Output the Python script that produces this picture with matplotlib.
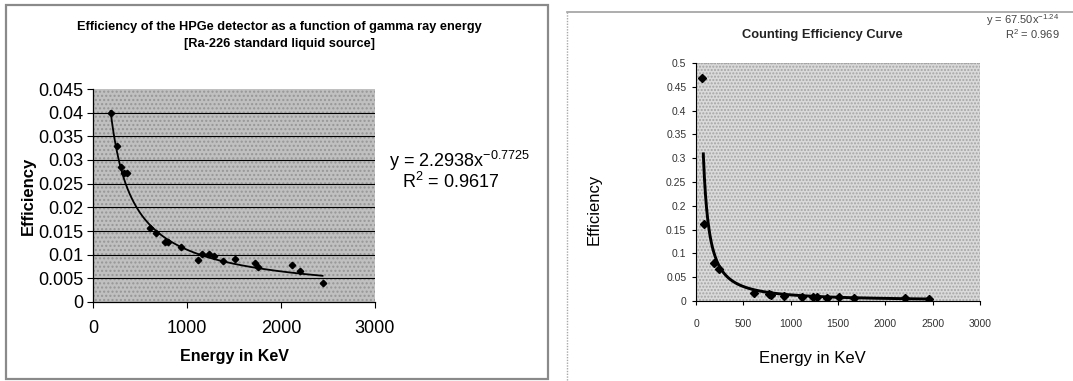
import matplotlib
matplotlib.use('Agg')
import matplotlib.pyplot as plt
import numpy as np
from matplotlib.patches import Rectangle
from matplotlib.lines import Line2D

W, H = 1073, 381
plt.rcParams['font.family'] = ['Liberation Sans', 'DejaVu Sans']
plt.rcParams['mathtext.fontset'] = 'custom'
plt.rcParams['mathtext.rm'] = 'Liberation Sans'
plt.rcParams['mathtext.it'] = 'Liberation Sans'

# left chart: Ra-226 standard liquid source
left_energy = [187, 257, 301, 334, 359, 609, 671, 763, 799, 935, 1115, 1159,
               1239, 1283, 1386, 1507, 1723, 1760, 2112, 2204, 2442]
left_eff = [0.0399, 0.0329, 0.0286, 0.0272, 0.0272, 0.0156, 0.0146, 0.0126,
            0.0126, 0.0117, 0.0089, 0.0102, 0.0101, 0.0098, 0.0086, 0.0091,
            0.0082, 0.0074, 0.0079, 0.0065, 0.0041]
left_fit = (2.2938, -0.7725)
left_yticks = [0, 0.005, 0.01, 0.015, 0.02, 0.025, 0.03, 0.035, 0.04, 0.045]
left_yticklabels = ['0', '0.005', '0.01', '0.015', '0.02', '0.025', '0.03', '0.035', '0.04', '0.045']
left_xticks = [0, 1000, 2000, 3000]

# right chart: counting efficiency curve
right_energy = [59, 86, 190, 242, 611, 768, 795, 932, 1121, 1239, 1283,
                1387, 1515, 1670, 2208, 2456]
right_eff = [0.469, 0.161, 0.080, 0.068, 0.0175, 0.0145, 0.013, 0.0112, 0.0088,
             0.0086, 0.0086, 0.0072, 0.0085, 0.0065, 0.0063, 0.0040]
right_fit = (67.50, -1.24)
right_fit_start = 77
right_yticks = [0, 0.05, 0.1, 0.15, 0.2, 0.25, 0.3, 0.35, 0.4, 0.45, 0.5]
right_yticklabels = ['0', '0.05', '0.1', '0.15', '0.2', '0.25', '0.3', '0.35', '0.4', '0.45', '0.5']
right_xticks = [0, 500, 1000, 1500, 2000, 2500, 3000]


def fx(px):
    return px / W


def fy(py):
    return 1 - py / H


def box(x0, y0, x1, y1):
    return [fx(x0), fy(y1), fx(x1) - fx(x0), fy(y0) - fy(y1)]


fig = plt.figure(figsize=(W / 100, H / 100), dpi=100)
fig.patch.set_facecolor('white')

# panel frames
fig.add_artist(Rectangle((fx(6), fy(379)), fx(548) - fx(6), fy(5) - fy(379),
                         transform=fig.transFigure, fill=False,
                         edgecolor='#8a8a8a', linewidth=1.6))
fig.add_artist(Line2D([fx(567), fx(1073)], [fy(12), fy(12)], transform=fig.transFigure,
                      color='#a0a0a0', linewidth=1.2))
fig.add_artist(Line2D([fx(567), fx(567)], [fy(12), fy(381)], transform=fig.transFigure,
                      color='#a8a8a8', linewidth=1.0, linestyle=(0, (1, 1))))

# ---- left chart ----
ax1 = fig.add_axes(box(93, 89, 375, 302))
ax1.add_patch(Rectangle((0, 0), 1, 1, transform=ax1.transAxes, facecolor='#c0c0c0',
                        edgecolor='#969696', hatch='....', linewidth=0, zorder=0))
for v in left_yticks[1:-1]:
    ax1.axhline(v, color='black', linewidth=0.8, zorder=1)
xx = np.linspace(min(left_energy), max(left_energy), 300)
ax1.plot(xx, left_fit[0] * xx ** left_fit[1], color='black', linewidth=1.3, zorder=3)
ax1.plot(left_energy, left_eff, linestyle='none', marker='D', markersize=3.3,
         color='black', zorder=4)
ax1.set_xlim(0, 3000)
ax1.set_ylim(0, 0.045)
ax1.set_xticks(left_xticks)
ax1.set_xticklabels([str(t) for t in left_xticks])
ax1.set_yticks(left_yticks)
ax1.set_yticklabels(left_yticklabels)
ax1.tick_params(labelsize=13, direction='out', length=4, width=0.8, pad=3)
ax1.tick_params(axis='x', pad=9)
for s in ('top', 'right'):
    ax1.spines[s].set_visible(False)
ax1.spines['left'].set_linewidth(0.9)
ax1.spines['bottom'].set_linewidth(0.9)

fig.text(fx(279), fy(27), 'Efficiency of the HPGe detector as a function of gamma ray energy',
         ha='center', va='center', fontsize=9.2, fontweight='bold')
fig.text(fx(279), fy(44), '[Ra-226 standard liquid source]',
         ha='center', va='center', fontsize=9.2, fontweight='bold')
fig.text(fx(234), fy(357), 'Energy in KeV', ha='center', va='center',
         fontsize=11.5, fontweight='bold')
fig.text(fx(28), fy(196), 'Efficiency', ha='center', va='center', rotation=90,
         fontsize=12, fontweight='bold')
fig.text(fx(389), fy(161), 'y = 2.2938x$^{-0.7725}$', ha='left', va='center', fontsize=13)
fig.text(fx(451), fy(182), 'R$^2$ = 0.9617', ha='center', va='center', fontsize=13)

# ---- right chart ----
ax2 = fig.add_axes(box(696, 63, 980, 301))
ax2.add_patch(Rectangle((0, 0), 1, 1, transform=ax2.transAxes, facecolor='#dadada',
                        edgecolor='#a4a4a4', hatch='.....', linewidth=0, zorder=0))
ax2.add_patch(Rectangle((0, 0), 1, 1, transform=ax2.transAxes, fill=False,
                        edgecolor='#a0a0a0', linestyle=(0, (1, 1)), linewidth=0.8, zorder=1))
xx2 = np.linspace(right_fit_start, max(right_energy), 400)
ax2.plot(xx2, right_fit[0] * xx2 ** right_fit[1], color='black', linewidth=2.1, zorder=3)
ax2.plot(right_energy, right_eff, linestyle='none', marker='D', markersize=4.2,
         color='black', zorder=4)
ax2.set_xlim(0, 3000)
ax2.set_ylim(0, 0.5)
ax2.set_xticks(right_xticks)
ax2.set_xticklabels([str(t) for t in right_xticks])
ax2.set_yticks(right_yticks)
ax2.set_yticklabels(right_yticklabels)
ax2.tick_params(labelsize=7.5, labelcolor='#333333', direction='out', length=3,
                width=0.8, pad=4)
ax2.tick_params(axis='x', pad=10)
for s in ('top', 'right'):
    ax2.spines[s].set_visible(False)

fig.text(fx(822), fy(35), 'Counting Efficiency Curve', ha='center', va='center',
         fontsize=9.3, fontweight='bold', color='#222222')
fig.text(fx(812), fy(358), 'Energy in KeV', ha='center', va='center', fontsize=12)
fig.text(fx(594), fy(209), 'Efficiency', ha='center', va='center', rotation=90, fontsize=12)
fig.text(fx(986), fy(20), 'y = 67.50x$^{-1.24}$', ha='left', va='center', fontsize=8,
         color='#444444')
fig.text(fx(1005), fy(34), 'R$^2$ = 0.969', ha='left', va='center', fontsize=8,
         color='#444444')

fig.savefig('out.png', dpi=100, facecolor='white')
